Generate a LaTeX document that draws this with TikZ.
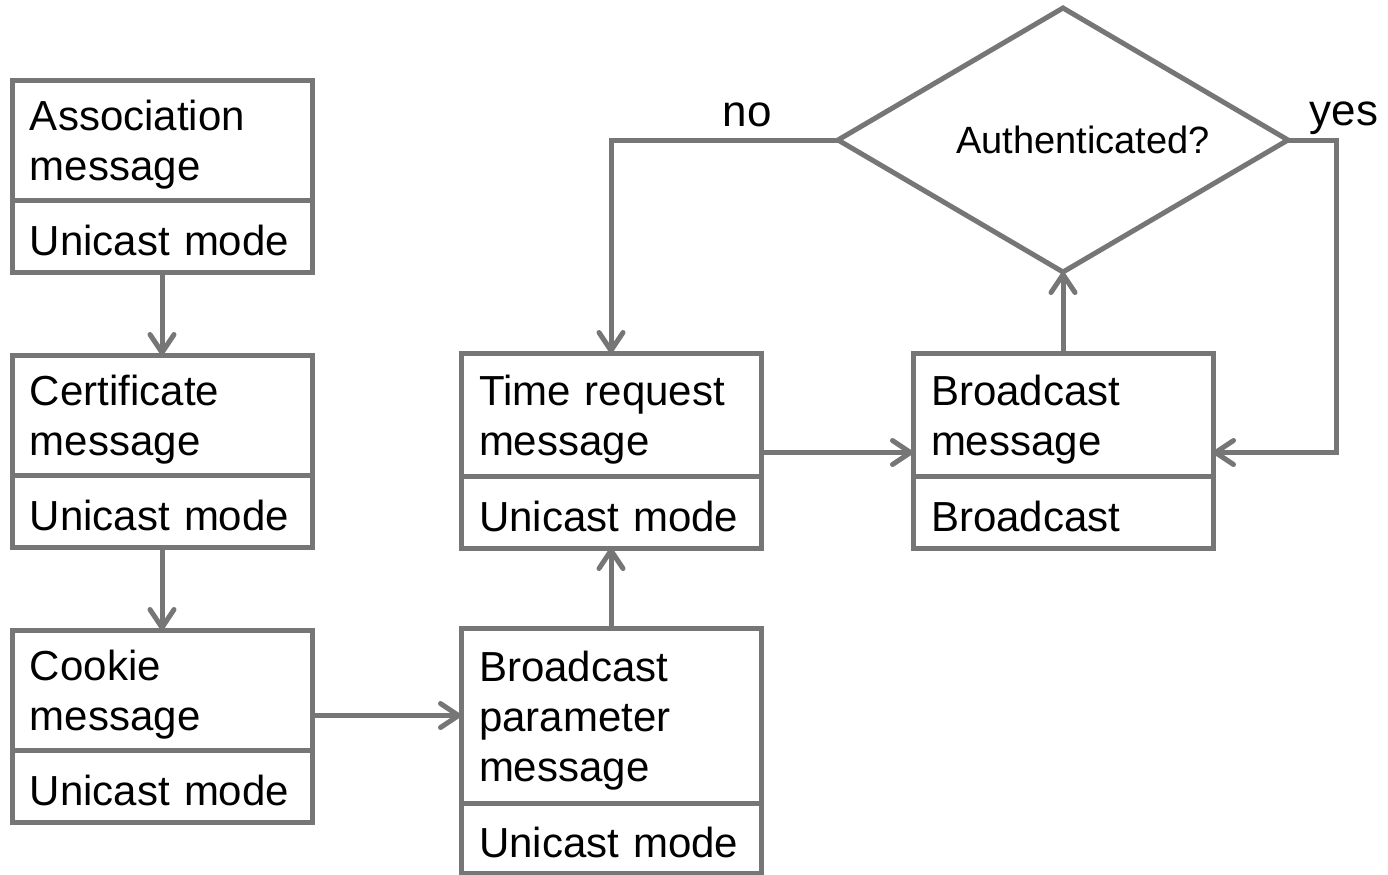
\documentclass[tikz,border=0pt]{standalone}
\usepackage{fontspec}
\setmainfont{Liberation Sans}
\usetikzlibrary{arrows.meta, shapes.geometric, positioning}
\definecolor{flowgray}{RGB}{118,118,118}

\begin{document}
\begin{tikzpicture}[
  x=0.5pt, y=-0.5pt,
  every node/.style={font=\fontsize{21}{25}\selectfont},
  msgbox/.style={draw=flowgray, line width=2.5pt, fill=white, outer sep=0pt,
                 minimum width=150pt, text width=132pt, inner xsep=9pt, align=left,
                 execute at begin node={\rule{0pt}{20pt}}},
  modebox/.style={msgbox, minimum height=36pt, below=0pt of #1},
  check/.style={draw=flowgray, line width=2.5pt, shape=diamond, aspect=1.7,
                minimum width=225pt, minimum height=132pt, inner sep=0pt,
                outer sep=0pt, font=\fontsize{19}{23}\selectfont},
  answer/.style={font=\fontsize{22}{26}\selectfont},
  arrow/.style={draw=flowgray, line width=2.5pt,
                -{Straight Barb[length=9pt, width=12pt, round]}}
]
  \useasboundingbox (0,0) rectangle (1388,874);

  % unicast handshake, left column
  \node[msgbox, minimum height=60pt] (assoc) at (162,140) {Association\\message};
  \node[modebox=assoc] (assocmode) {Unicast mode};
  \node[msgbox, minimum height=60pt] (cert) at (162,415) {Certificate\\message};
  \node[modebox=cert] (certmode) {Unicast mode};
  \node[msgbox, minimum height=60pt] (cookie) at (162,690) {Cookie\\message};
  \node[modebox=cookie] (cookiemode) {Unicast mode};

  % middle column
  \node[msgbox, minimum height=87.5pt] (param) at (611,715.5) {Broadcast\\parameter\\message};
  \node[modebox=param, minimum height=35pt] (parammode) {Unicast mode};
  \node[msgbox, minimum height=61.5pt] (timereq) at (611,414.5) {Time request\\message};
  \node[modebox=timereq] (timereqmode) {Unicast mode};

  % broadcast side
  \node[msgbox, minimum height=61.5pt] (bcast) at (1063,414.5) {Broadcast\\message};
  \node[modebox=bcast] (bcastmode) {Broadcast};
  \node[check] (auth) at (1063,140) {\hspace*{20pt}Authenticated?};

  \draw[arrow] (assocmode) -- (cert);
  \draw[arrow] (certmode) -- (cookie);
  \draw[arrow] (param.west -| cookie.east) -- (param.west);
  \draw[arrow] (param) -- (timereqmode);
  \draw[arrow] ([yshift=-19pt]timereq.east) -- ([yshift=-19pt]bcast.west);
  \draw[arrow] (bcast) -- (auth);
  \draw[arrow] (auth.west) -| node[answer, above=2pt, pos=0.2] {no} (timereq.north);
  \draw[arrow] (auth.east) -- ++(24pt,0) node[answer, above=-2pt, xshift=4pt] {yes}
    |- ([yshift=-19pt]bcast.east);
\end{tikzpicture}
\end{document}
